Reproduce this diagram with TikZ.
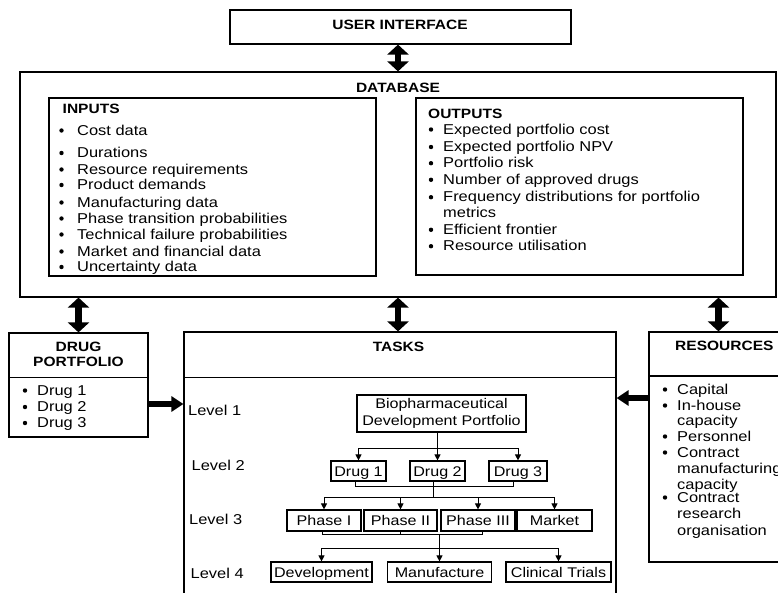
\documentclass[tikz,border=0pt]{standalone}
\usepackage{fontspec}
\setmainfont[FakeStretch=1.15]{Liberation Sans}
\usetikzlibrary{arrows.meta}
\begin{document}
\begin{tikzpicture}[x=1pt,y=-1pt,
  box/.style={draw, line width=1.2pt, inner sep=0pt},
  txt/.style={font=\fontsize{14.3}{17}\selectfont, inner sep=0pt},
  ttl/.style={font=\fontsize{13.5}{16}\selectfont\bfseries, inner sep=0pt},
  item/.style={txt, anchor=base west},
  tbox/.style={draw, line width=1.2pt, inner sep=0pt, font=\fontsize{14}{17}\selectfont,
    text height=10.2pt, text depth=0pt, minimum height=20pt},
  link/.style={line width=1pt},
  tip/.style={link, -{Triangle[width=6pt,length=6pt]}},
  bigdbl/.style={line width=6.5pt, {Triangle[width=21pt,length=10pt]}-{Triangle[width=21pt,length=10pt]}},
  bigarr/.style={line width=6pt, -{Triangle[width=15pt,length=12pt]}},
]
\useasboundingbox (0,0) rectangle (778,592);
\clip (0,0) rectangle (778,592);
\fill[white] (0,0) rectangle (778,592);

% ---- top: user interface and database ----
\node[box, minimum width=341pt, minimum height=34pt] (ui) at (400.5,27) {};
\node[ttl, anchor=base] (uit) at (400,29.5) {USER INTERFACE};

\node[box, minimum width=756pt, minimum height=225pt] (db) at (398,184.5) {};
\node[ttl, anchor=base] (dbt) at (398,92.7) {DATABASE};

\node[box, minimum width=327pt, minimum height=178pt] (inbox) at (212.5,187) {};
\node[ttl, anchor=base west] (intitle) at (62.5,113.5) {INPUTS};
\foreach \t/\yy/\bb [count=\i] in {
  Cost data/135/1, Durations/157.5/1, Resource requirements/174/1,
  Product demands/189.5/1, Manufacturing data/207/1,
  Phase transition probabilities/223/1, Technical failure probabilities/239/1,
  Market and financial data/256/1, Uncertainty data/271.5/1} {
  \node[item] (in\i) at (77,\yy) {\t};
  \ifnum\bb=1 \fill ([xshift=-15.5pt,yshift=4.5pt]in\i.base west) circle (2.2pt);\fi
}

\node[box, minimum width=327pt, minimum height=177pt] (outbox) at (579.5,186.5) {};
\node[ttl, anchor=base west] (outtitle) at (428,118) {OUTPUTS};
\foreach \t/\yy/\bb [count=\i] in {
  Expected portfolio cost/134/1, Expected portfolio NPV/151.5/1,
  Portfolio risk/167.7/1, Number of approved drugs/184.3/1,
  Frequency distributions for portfolio/201.7/1, metrics/217.3/0,
  Efficient frontier/234.3/1, Resource utilisation/250.7/1} {
  \node[item] (out\i) at (443,\yy) {\t};
  \ifnum\bb=1 \fill ([xshift=-12pt,yshift=4.5pt]out\i.base west) circle (2.2pt);\fi
}

% ---- drug portfolio ----
\node[box, minimum width=139pt, minimum height=104pt] (drugp) at (78.5,385) {};
\draw[box] (drugp.west |- 0,377.7) -- (drugp.east |- 0,377.7);
\node[ttl, anchor=base] (dpt1) at (78.5,351.7) {DRUG};
\node[ttl, anchor=base] (dpt2) at (78.5,366.7) {PORTFOLIO};
\foreach \t/\yy [count=\i] in {Drug 1/395, Drug 2/411.5, Drug 3/427.5} {
  \node[item] (dp\i) at (37,\yy) {\t};
  \fill ([xshift=-12pt,yshift=4.5pt]dp\i.base west) circle (2.2pt);
}

% ---- tasks ----
\node[box, minimum width=432pt, minimum height=278pt] (tasks) at (400,471) {};
\draw[box] (tasks.west |- 0,377.7) -- (tasks.east |- 0,377.7);
\node[ttl, anchor=base] (taskt) at (398.5,351.7) {TASKS};

\node[item] (lv1) at (188,415.5) {Level 1};
\node[item] (lv2) at (191.5,470) {Level 2};
\node[item] (lv3) at (189,524) {Level 3};
\node[item] (lv4) at (190.5,578) {Level 4};

\node[draw, line width=1.2pt, inner sep=0pt, align=center,
  font=\fontsize{14}{17}\selectfont, minimum width=169pt, minimum height=37pt]
  (bio) at (441.5,413.5) {Biopharmaceutical\\Development Portfolio};

\node[tbox, minimum width=55pt] (d1) at (358.5,471) {Drug 1};
\node[tbox, minimum width=55pt] (d2) at (437.5,471) {Drug 2};
\node[tbox, minimum width=58pt] (d3) at (518,471) {Drug 3};

\node[tbox, minimum width=74pt, minimum height=21pt] (p1) at (324,520.5) {Phase I};
\node[tbox, minimum width=73pt, minimum height=21pt] (p2) at (400.5,520.5) {Phase II};
\node[tbox, minimum width=74pt, minimum height=21pt] (p3) at (478,520.5) {Phase III};
\node[tbox, minimum width=75pt, minimum height=21pt] (mk) at (554.5,520.5) {Market};

\node[tbox, minimum width=101pt] (dev) at (321.5,572) {Development};
\node[tbox, minimum width=104pt] (man) at (439.5,572) {Manufacture};
\node[tbox, minimum width=105pt] (ct)  at (558.5,572) {Clinical Trials};

% level 1 -> level 2
\coordinate (j12) at (437.5,448);
\draw[link] (bio.south -| j12) -- (j12);
\draw[tip] (j12) -| (d1.north);
\draw[tip] (j12) -- (d2.north);
\draw[tip] (j12) -| (d3.north);

% level 2 -> level 3
\coordinate (r2a) at (355,486);
\coordinate (r2b) at (513,486);
\draw[link] (d1.south -| r2a) -- (r2a) -- (r2b) -- (d3.south -| r2b);
\coordinate (j23) at (433,497);
\draw[link] (d2.south -| j23) -- (j23);
\draw[tip] (j23) -| (p1.north);
\draw[tip] (j23) -| (p2.north);
\draw[tip] (j23) -| (p3.north);
\draw[tip] (j23) -| (mk.north);

% level 3 -> level 4
\coordinate (r3a) at (322,534);
\coordinate (r3c) at (482,534);
\draw[link] (p1.south -| r3a) -- (r3a) -- (r3c) -- (p3.south -| r3c);
\draw[link] (p2.south) -- (p2.south |- r3a);
\coordinate (j34) at (439.5,548);
\draw[link] (j34 |- r3a) -- (j34);
\draw[tip] (j34) -| (dev.north);
\draw[tip] (j34) -- (man.north);
\draw[tip] (j34) -| (ct.north);

% ---- resources ----
\node[box, minimum width=139pt, minimum height=230pt] (res) at (718.5,447) {};
\draw[box] (res.west |- 0,376) -- (res.east |- 0,376);
\node[ttl, anchor=base west] (rest) at (675,350) {RESOURCES};
\foreach \t/\yy/\bb [count=\i] in {
  Capital/394/1, In-house/410/1, capacity/425/0, Personnel/441/1,
  Contract/457/1, manufacturing/473.5/0, capacity/489/0,
  Contract/502/1, research/518.5/0, organisation/535/0} {
  \node[item] (rs\i) at (677,\yy) {\t};
  \ifnum\bb=1 \fill ([xshift=-12pt,yshift=4.5pt]rs\i.base west) circle (2.2pt);\fi
}

% ---- thick connectors ----
\draw[bigdbl] (ui.south -| db.north) -- (db.north);
\draw[bigdbl] (db.south -| drugp.north) -- (drugp.north);
\draw[bigdbl] (db.south) -- (db.south |- tasks.north);
\draw[bigdbl] (db.south -| res.north) -- (res.north);
\draw[bigarr] ([yshift=-19pt]drugp.east) -- ([yshift=-19pt]drugp.east -| tasks.west);
\draw[bigarr] ([yshift=49pt]res.west) -- ([yshift=49pt]res.west -| tasks.east);
\end{tikzpicture}
\end{document}
